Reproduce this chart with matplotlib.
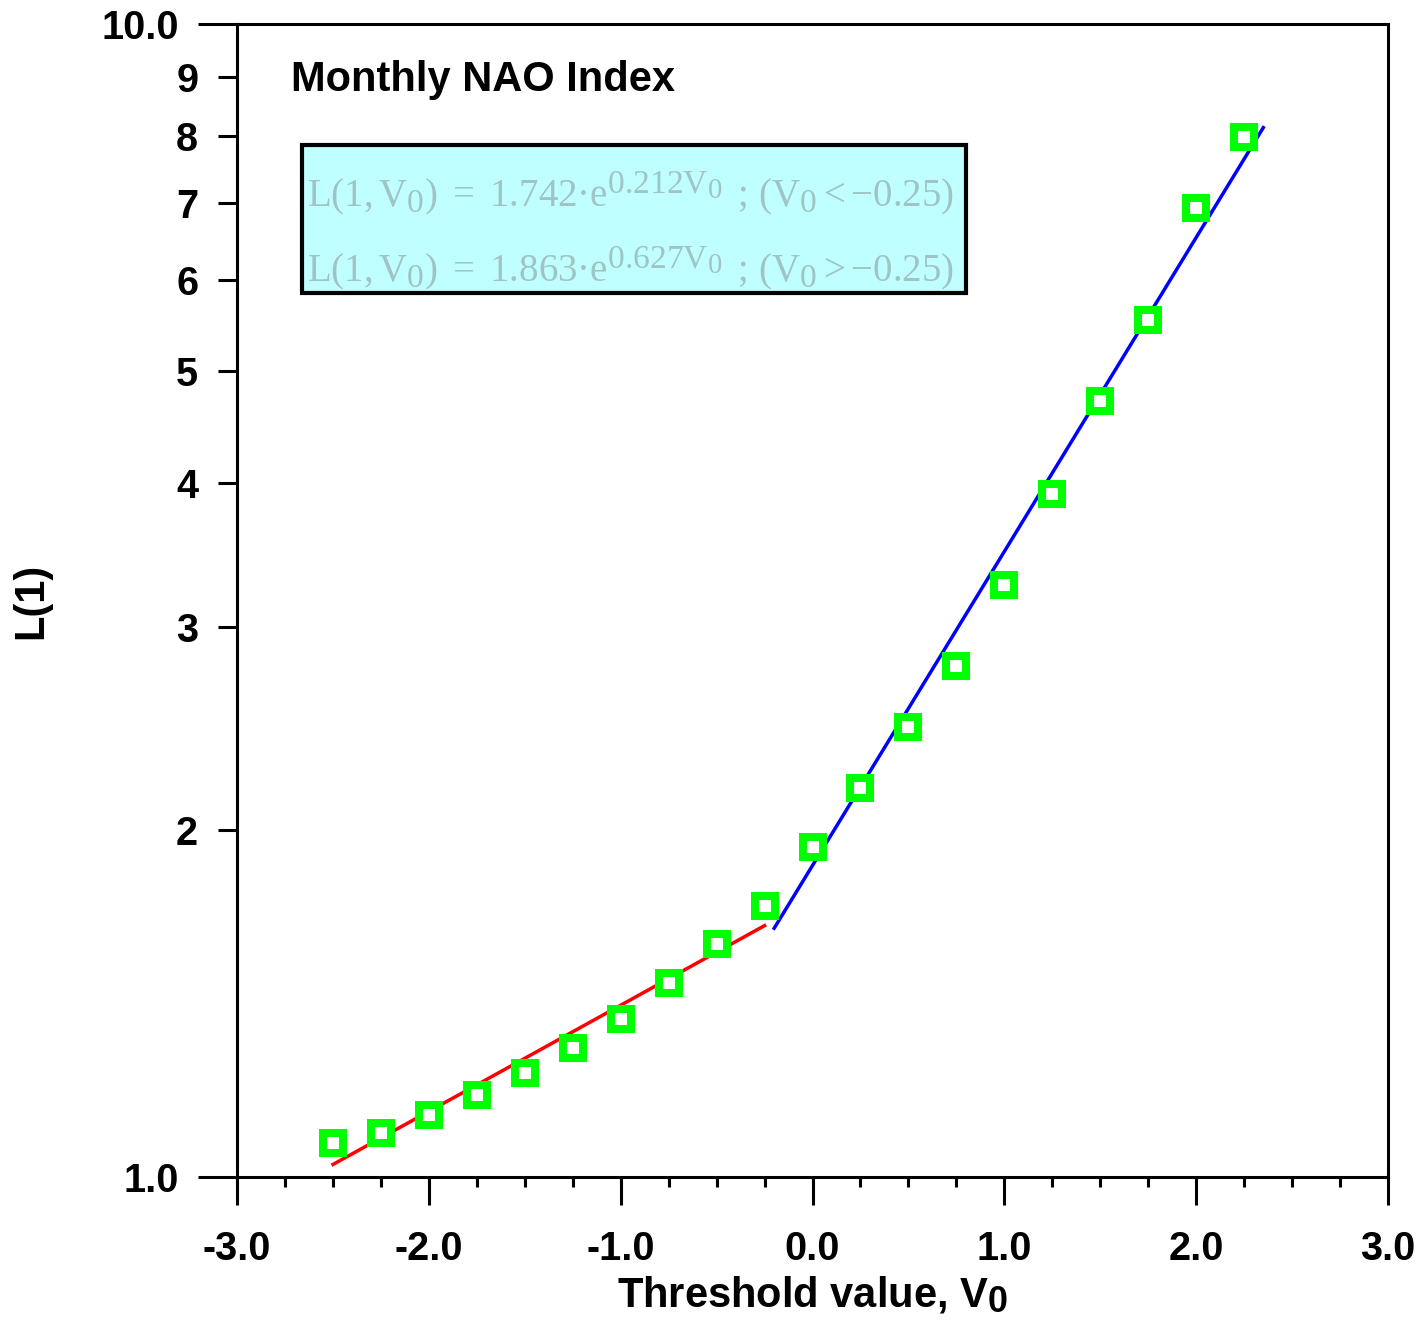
import numpy as np
import matplotlib
matplotlib.use("Agg")
import matplotlib.pyplot as plt
import matplotlib._mathtext as mathtext_interno
from matplotlib.ticker import FixedLocator, FixedFormatter, NullFormatter
from matplotlib.patches import Rectangle

# datos
V0 = [-2.5, -2.25, -2.0, -1.75, -1.5, -1.25, -1.0, -0.75, -0.5, -0.25,
      0.0, 0.25, 0.5, 0.75, 1.0, 1.25, 1.5, 1.75, 2.0, 2.25]
L1 = [1.070, 1.092, 1.132, 1.178, 1.231, 1.294, 1.371, 1.473, 1.593, 1.718,
      1.933, 2.175, 2.457, 2.775, 3.262, 3.912, 4.710, 5.537, 6.924, 7.980]

# ajustes exponenciales (coeficientes del recuadro) y sus rangos
ajuste_bajo = {'a': 1.742, 'b': 0.212, 'x': [-2.5, -0.25]}
ajuste_alto = {'a': 1.863, 'b': 0.627, 'x': [-0.2, 2.35]}

plt.rcParams['font.family'] = ['Liberation Sans', 'DejaVu Sans']
plt.rcParams['mathtext.fontset'] = 'custom'
plt.rcParams['mathtext.rm'] = 'Liberation Serif'
plt.rcParams['mathtext.it'] = 'Liberation Serif:italic'
plt.rcParams['mathtext.bf'] = 'Liberation Sans:bold'
plt.rcParams['mathtext.sf'] = 'Liberation Sans'
# sub/superindices mas grandes, como en el original
mathtext_interno.SHRINK_FACTOR = 0.86

fig = plt.figure(figsize=(14.23, 13.25), dpi=100)
ax = fig.add_axes([0.1666, 0.1117, 0.8088, 0.8702])

# lineas de ajuste
for aj, col in [(ajuste_bajo, 'red'), (ajuste_alto, 'blue')]:
    xs = np.linspace(aj['x'][0], aj['x'][1], 50)
    ax.plot(xs, aj['a'] * np.exp(aj['b'] * xs), color=col, linewidth=2.5, zorder=2)

# puntos
ax.plot(V0, L1, linestyle='none', marker='s', markersize=15,
        markerfacecolor='white', markeredgecolor='#00FF00', markeredgewidth=5.8, zorder=3)

ax.set_yscale('log')
ax.set_xlim(-3, 3)
ax.set_ylim(1, 10)

# ejes y ticks
for s in ax.spines.values():
    s.set_linewidth(2.2)
ax.xaxis.set_major_locator(FixedLocator([-3, -2, -1, 0, 1, 2, 3]))
ax.xaxis.set_major_formatter(FixedFormatter(['-3.0', '-2.0', '-1.0', '0.0', '1.0', '2.0', '3.0']))
ax.xaxis.set_minor_locator(FixedLocator(np.arange(-3, 3.01, 0.25)))
ax.xaxis.set_minor_formatter(NullFormatter())
ax.yaxis.set_major_locator(FixedLocator([1, 10]))
ax.yaxis.set_major_formatter(FixedFormatter(['1.0', '10.0']))
ax.yaxis.set_minor_locator(FixedLocator([2, 3, 4, 5, 6, 7, 8, 9]))
ax.yaxis.set_minor_formatter(FixedFormatter(['2', '3', '4', '5', '6', '7', '8', '9']))

ax.tick_params(axis='x', which='major', direction='out', length=20, width=2.2,
               pad=18, labelsize=28.5)
ax.tick_params(axis='x', which='minor', direction='out', length=7.5, width=2.2)
ax.tick_params(axis='y', which='major', direction='out', length=28, width=2.2,
               pad=14, labelsize=28.5)
ax.tick_params(axis='y', which='minor', direction='out', length=14, width=2.2,
               pad=14, labelsize=28.5)
for lab in ax.get_xticklabels() + ax.get_yticklabels() + ax.get_yminorticklabels():
    lab.set_fontweight('bold')

ax.set_xlabel(r'Threshold value, V$_\mathbf{0}$', fontsize=30, fontweight='bold', labelpad=5)
ax.set_ylabel('L(1)', fontsize=30, fontweight='bold', labelpad=36)

ax.text(0.047, 0.969, 'Monthly NAO Index', transform=ax.transAxes,
        fontsize=30, fontweight='bold', va='top', ha='left')

# recuadro con las ecuaciones
ax.add_patch(Rectangle((0.0565, 0.767), 0.5765, 0.128, transform=ax.transAxes,
                       facecolor='#C0FFFF', edgecolor='black', linewidth=3, zorder=4))
col_txt = '#A0C4C4'
ax.text(0.061, 0.853,
        '$\\mathrm{L(1,V_0)\\ =\\ 1.742\u00b7e^{0.212V_0}\\ \\,;\\,(V_0<-0.25)}$',
        transform=ax.transAxes, fontsize=28, color=col_txt, va='center', ha='left', zorder=5)
ax.text(0.061, 0.788,
        '$\\mathrm{L(1,V_0)\\ =\\ 1.863\u00b7e^{0.627V_0}\\ \\,;\\,(V_0>-0.25)}$',
        transform=ax.transAxes, fontsize=28, color=col_txt, va='center', ha='left', zorder=5)

fig.savefig('out.png', dpi=100)
